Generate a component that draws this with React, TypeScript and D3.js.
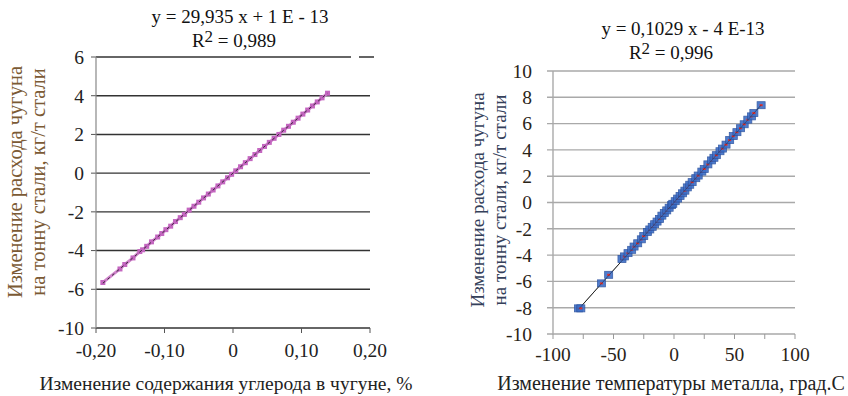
import * as d3 from 'd3';

// left chart: carbon content change vs iron consumption change
const carbonX = [-0.19, -0.165, -0.158, -0.146, -0.136, -0.132, -0.126, -0.119, -0.11, -0.104, -0.098, -0.091, -0.084, -0.077,
  -0.071, -0.064, -0.057, -0.05, -0.043, -0.036, -0.029, -0.022, -0.015, -0.008, -0.002, 0.004, 0.011, 0.018, 0.025, 0.032,
  0.039, 0.046, 0.053, 0.06, 0.067, 0.074, 0.081, 0.088, 0.095, 0.102, 0.109, 0.116, 0.123, 0.13, 0.138];
const carbonY = [-5.65, -4.95, -4.72, -4.38, -4.05, -3.96, -3.78, -3.55, -3.3, -3.12, -2.92, -2.74, -2.5, -2.3,
  -2.13, -1.91, -1.71, -1.5, -1.28, -1.08, -0.87, -0.66, -0.45, -0.24, -0.06, 0.12, 0.33, 0.54, 0.75, 0.96,
  1.17, 1.38, 1.59, 1.8, 2.0, 2.22, 2.42, 2.63, 2.84, 3.05, 3.26, 3.47, 3.68, 3.89, 4.13];
const carbonTicksX = [-0.2, -0.1, 0, 0.1, 0.2];
const carbonTickLabelsX = ['-0,20', '-0,10', '0', '0,10', '0,20'];
const carbonTicksY = [6, 4, 2, 0, -2, -4, -6, -8];
const carbonTickLabelsY = ['6', '4', '2', '0', '-2', '-4', '-6', '-10'];
const carbonSlope = 29.935;

// right chart: metal temperature change vs iron consumption change
const tempX = [-79, -77, -60, -54, -43, -41, -38, -35, -33, -30, -27, -25, -22, -20, -18, -16, -14, -12, -10, -8, -6,
  -4, -2, -1, 1, 3, 5, 7, 9, 11, 13, 15, 18, 20, 23, 25, 28, 31, 33, 35, 38, 40, 43, 46, 49, 52, 55, 58, 61, 64, 66, 72];
const tempY = [-8.05, -8.05, -6.15, -5.5, -4.3, -4.1, -3.85, -3.6, -3.35, -3.1, -2.8, -2.55, -2.25, -2.05, -1.85, -1.65,
  -1.45, -1.25, -1.0, -0.8, -0.6, -0.4, -0.2, -0.1, 0.1, 0.3, 0.5, 0.7, 0.9, 1.15, 1.35, 1.55, 1.85, 2.05, 2.35, 2.55,
  2.9, 3.2, 3.4, 3.6, 3.9, 4.1, 4.4, 4.75, 5.05, 5.35, 5.65, 5.95, 6.3, 6.55, 6.8, 7.4];
const tempTicksX = [-100, -50, 0, 50, 100];
const tempMinorX = [-100, -75, -50, -25, 0, 25, 50, 75, 100];
const tempTicksY = [10, 8, 6, 4, 2, 0, -2, -4, -6, -8, -10];
const tempSlope = 0.1029;

const FONT = "'Liberation Serif', 'Times New Roman', Tinos, Times, 'DejaVu Serif', 'Noto Serif', serif";
const yTitle1 = 'Изменение расхода чугуна';
const yTitle2 = 'на тонну стали, кг/т стали';

function CarbonChart() {
  const x = d3.scaleLinear().domain([-0.2, 0.2]).range([96, 370]);
  const y = d3.scaleLinear().domain([-8, 6]).range([328, 57]);
  const pts = carbonX.map((v, i) => [v, carbonY[i]] as [number, number]);
  const line = d3.line<[number, number]>().x(d => x(d[0])).y(d => y(d[1]));
  const xs = d3.extent(carbonX) as [number, number];
  return (
    <g>
      <text x={240} y={23} textAnchor="middle" fontSize={19} fill="#111">y = 29,935 x + 1 E - 13</text>
      <text x={234} y={47} textAnchor="middle" fontSize={19} fill="#111">
        R<tspan dy={-5} fontSize={17}>2</tspan><tspan dy={5}> = 0,989</tspan>
      </text>
      {carbonTicksY.map((v, i) => (
        <g key={v}>
          {i === 0 ? (
            <>
              <line x1={x(-0.2)} x2={351} y1={y(v)} y2={y(v)} stroke="#333" strokeWidth={1.4} />
              <line x1={359} x2={374} y1={y(v)} y2={y(v)} stroke="#222" strokeWidth={1.4} />
            </>
          ) : (
            <line x1={x(-0.2)} x2={x(0.2)} y1={y(v)} y2={y(v)} stroke="#333" strokeWidth={1.4} />
          )}
          <line x1={91} x2={96} y1={y(v)} y2={y(v)} stroke="#555" />
          <text x={84} y={y(v)} dy="0.35em" textAnchor="end" fontSize={19.5} fill="#222">{carbonTickLabelsY[i]}</text>
        </g>
      ))}
      <line x1={96} x2={96} y1={y(6)} y2={y(-8)} stroke="#888" strokeWidth={1.2} />
      {carbonTicksX.map((v, i) => (
        <g key={v}>
          <line x1={x(v)} x2={x(v)} y1={328} y2={333} stroke="#555" />
          <text x={x(v)} y={357} textAnchor="middle" fontSize={19.5} fill="#222">{carbonTickLabelsX[i]}</text>
        </g>
      ))}
      <path d={line(pts) ?? ''} fill="none" stroke="#d184cd" strokeWidth={3} />
      {pts.map((d, i) => (
        <rect key={i} x={x(d[0]) - 2.5} y={y(d[1]) - 2.5} width={5} height={5} fill="#c466c0" />
      ))}
      <line x1={x(xs[0])} y1={y(carbonSlope * xs[0])} x2={x(xs[1])} y2={y(carbonSlope * xs[1])}
        stroke="#222" strokeWidth={0.9} strokeDasharray="3,3" />
      <text transform="translate(22,182) rotate(-90)" textAnchor="middle" fontSize={20.5} fill="#7b5a34">{yTitle1}</text>
      <text transform="translate(45,182) rotate(-90)" textAnchor="middle" fontSize={20.5} fill="#7b5a34">{yTitle2}</text>
      <text x={226} y={390} textAnchor="middle" fontSize={19.5} fill="#222">Изменение содержания углерода в чугуне, %</text>
    </g>
  );
}

function TempChart() {
  const x = d3.scaleLinear().domain([-100, 100]).range([553, 795]);
  const y = d3.scaleLinear().domain([-10, 10]).range([334, 71]);
  const xs = d3.extent(tempX) as [number, number];
  return (
    <g>
      <text x={683} y={35} textAnchor="middle" fontSize={19} fill="#111">y = 0,1029 x - 4 E-13</text>
      <text x={671} y={59} textAnchor="middle" fontSize={19} fill="#111">
        R<tspan dy={-5} fontSize={17}>2</tspan><tspan dy={5}> = 0,996</tspan>
      </text>
      {tempTicksY.map(v => (
        <g key={v}>
          <line x1={547} x2={x(100)} y1={y(v)} y2={y(v)} stroke="#a9a9a9" strokeWidth={1.4} />
          <text x={532} y={y(v)} dy="0.35em" textAnchor="end" fontSize={19.5} fill="#2a2418">{v}</text>
        </g>
      ))}
      <line x1={553} x2={553} y1={y(10)} y2={y(-10)} stroke="#a9a9a9" strokeWidth={1.4} />
      {tempMinorX.map(v => (
        <line key={v} x1={x(v)} x2={x(v)} y1={334} y2={339} stroke="#999" />
      ))}
      {tempTicksX.map(v => (
        <text key={v} x={x(v)} y={361} textAnchor="middle" fontSize={19.5} fill="#2a2418">{v}</text>
      ))}
      <line x1={x(xs[0])} y1={y(tempSlope * xs[0])} x2={x(xs[1])} y2={y(tempSlope * xs[1])}
        stroke="#222" strokeWidth={1} />
      {tempX.map((v, i) => (
        <g key={i}>
          <rect x={x(v) - 4} y={y(tempY[i]) - 3.5} width={8} height={7} fill="#3d6fc8" stroke="#2b52a0" strokeWidth={0.8} opacity={0.9} />
          <rect x={x(v) - 1.5} y={y(tempY[i]) - 1} width={3} height={2} fill="#e0302c" />
        </g>
      ))}
      <line x1={x(xs[0])} y1={y(tempSlope * xs[0])} x2={x(xs[1])} y2={y(tempSlope * xs[1])}
        stroke="#222" strokeWidth={0.6} opacity={0.6} />
      <text transform="translate(484,200) rotate(-90)" textAnchor="middle" fontSize={19} fill="#34405a">{yTitle1}</text>
      <text transform="translate(506,200) rotate(-90)" textAnchor="middle" fontSize={19} fill="#34405a">{yTitle2}</text>
      <text x={671} y={390} textAnchor="middle" fontSize={20} fill="#222">Изменение температуры металла, град.С</text>
    </g>
  );
}

export default function App() {
  return (
    <svg width={848} height={396} style={{ position: 'absolute', left: 0, top: 0, background: '#fff', fontFamily: FONT }}>
      <rect width={848} height={396} fill="#fff" />
      <CarbonChart />
      <TempChart />
    </svg>
  );
}
